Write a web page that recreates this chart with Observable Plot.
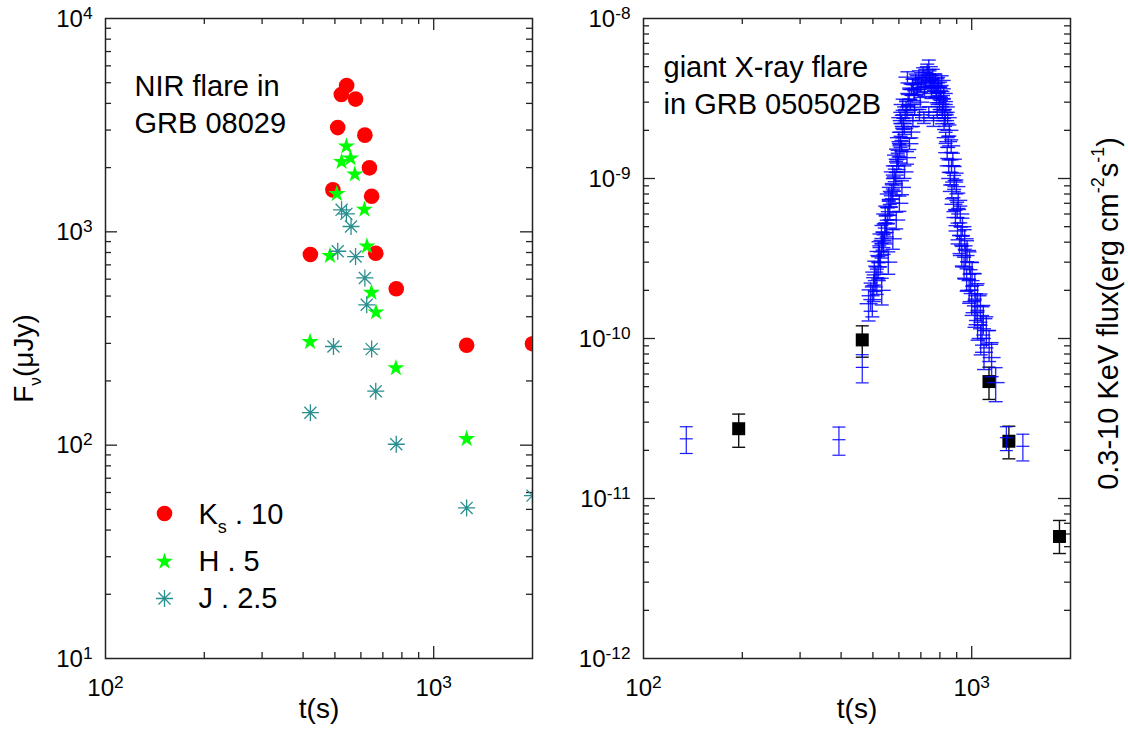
<!DOCTYPE html>
<html><head><meta charset="utf-8">
<script src="https://cdn.jsdelivr.net/npm/d3@7"></script>
<script src="https://cdn.jsdelivr.net/npm/@observablehq/plot@0.6"></script>
<style>
html,body{margin:0;padding:0;background:#fff;}
#wrap{position:relative;width:1128px;height:729px;overflow:hidden;background:#fff;font-family:"Liberation Sans",Arial,sans-serif;}
#wrap svg{position:absolute;top:0;}
</style></head><body><div id="wrap"></div>
<script>
// ---------- Left panel: NIR flare (F_nu, microJansky, scaled) ----------
const ksT = [543, 523, 578, 510, 617, 637, 493, 647, 421, 666, 769, 1260, 2000];
const ksF = [4850, 4400, 4190, 3080, 2840, 1995, 1573, 1468, 783, 794, 541, 294, 299];
const hT  = [542, 524, 558, 575, 507, 615, 483, 626, 646, 667, 420, 767, 1260];
const hF  = [2520, 2130, 2213, 1862, 1507, 1273, 772, 856, 519, 420, 305, 230, 107];
const jT  = [524, 542, 560, 510, 578, 617, 625, 495, 647, 666, 421, 769, 1260, 2000];
const jF  = [1268, 1214, 1059, 811, 766, 608, 455, 290, 282, 179, 142, 101, 50.8, 58];
const legendLabels = ["K_{s} . 10", "H . 5", "J . 2.5"];

// ---------- Right panel: X-ray flare (0.3-10 keV flux) ----------
const sqT  = [195, 464, 1129, 1298, 1851];
const sqF  = [2.73e-11, 9.8e-11, 5.38e-11, 2.28e-11, 5.79e-12];
const sqLo = [2.09e-11, 7.64e-11, 4.16e-11, 1.77e-11, 4.53e-12];
const sqHi = [3.37e-11, 1.2e-10, 6.62e-11, 2.83e-11, 7.29e-12];

const isoT = [135, 394, 464, 1275, 1432];
const isoF = [2.36e-11, 2.33e-11, 6.6e-11, 2.4e-11, 2.12e-11];
const isoE = [0.19, 0.2, 0.2, 0.17, 0.19];

const riseT = [485,492,498,503,508,514,519,523,527,531,535,539,543,547,551,555,559,563,567,571,575,579,583,587,591,595,599,603,607,611,615,619,623,627,631,635,640,645,650,655,532,557,575,589,602,613,624,635,646,655,662,606,616,637,505,520,531,545,559,575,588,600,612];
const riseF = [1.65e-10,1.85e-10,1.75e-10,2.1e-10,2.4e-10,2.3e-10,2.8e-10,3.3e-10,3.0e-10,3.7e-10,4.1e-10,3.9e-10,4.6e-10,5.2e-10,4.9e-10,5.9e-10,6.6e-10,6.2e-10,7.4e-10,8.3e-10,7.8e-10,9.3e-10,1.05e-9,1.0e-9,1.2e-9,1.32e-9,1.25e-9,1.5e-9,1.7e-9,1.6e-9,1.95e-9,2.2e-9,2.05e-9,2.5e-9,2.8e-9,2.6e-9,3.1e-9,3.4e-9,2.9e-9,3.6e-9,2.0e-10,3.0e-10,4.2e-10,5.5e-10,7.0e-10,8.8e-10,1.1e-9,1.35e-9,1.65e-9,1.95e-9,2.3e-9,2.4e-9,2.9e-9,4.3e-9,2.6e-10,3.5e-10,4.5e-10,6.0e-10,8.0e-10,1.1e-9,1.4e-9,1.8e-9,2.3e-9];
const riseE = [.22,.20,.22,.19,.18,.18,.16,.15,.16,.14,.13,.14,.13,.12,.12,.11,.11,.11,.10,.10,.10,.10,.09,.09,.09,.09,.09,.09,.08,.08,.08,.08,.08,.08,.08,.08,.08,.08,.08,.08,.19,.16,.14,.12,.11,.10,.09,.09,.08,.08,.08,.08,.08,.08,.17,.15,.13,.12,.10,.09,.09,.08,.08];

const peakT = [660,668,675,682,690,697,704,711,718,725,732,740,747,754,761,768,775,782,790,798,806,814,822,830,670,693,715,740,765,785,700,722,744,758,779,795,686,664];
const peakF = [3.9e-9,3.3e-9,4.2e-9,3.6e-9,4.4e-9,3.0e-9,4.0e-9,4.6e-9,3.5e-9,4.3e-9,4.8e-9,5.0e-9,4.1e-9,3.4e-9,4.5e-9,3.8e-9,4.2e-9,3.2e-9,3.7e-9,2.9e-9,3.3e-9,2.6e-9,2.9e-9,2.3e-9,2.7e-9,2.5e-9,2.4e-9,2.6e-9,2.3e-9,2.6e-9,3.7e-9,4.0e-9,4.4e-9,3.9e-9,3.5e-9,3.2e-9,3.9e-9,3.6e-9];
const peakE = [.07,.07,.07,.07,.07,.07,.07,.07,.07,.07,.08,.10,.07,.07,.07,.07,.07,.07,.07,.07,.07,.08,.08,.08,.08,.08,.08,.08,.08,.08,.07,.07,.07,.07,.07,.07,.07,.07];

const decayT = [790,803,815,824,833,842,851,860,870,880,892,905,918,933,948,965,982,1000,1020,1042,1065,1090,810,822,834,845,855,866,876,887,898,910,923,937,952,968,985,1003,1022,1042,1063,1085,1108,1130,1150,1183,828,848,868,884,903,928,958,992,1030,1075];
const decayF = [4.0e-9,3.5e-9,2.7e-9,2.2e-9,1.8e-9,1.45e-9,1.2e-9,1.0e-9,8.3e-10,6.9e-10,5.7e-10,4.7e-10,3.9e-10,3.3e-10,2.8e-10,2.35e-10,2.0e-10,1.7e-10,1.45e-10,1.22e-10,1.0e-10,8.2e-11,4.1e-9,3.4e-9,2.8e-9,2.4e-9,2.0e-9,1.6e-9,1.32e-9,1.08e-9,8.9e-10,7.3e-10,6.0e-10,5.0e-10,4.2e-10,3.55e-10,3.0e-10,2.55e-10,2.15e-10,1.85e-10,1.58e-10,1.33e-10,1.12e-10,9.2e-11,7.6e-11,5.3e-11,2.5e-9,1.7e-9,1.2e-9,9.5e-10,6.4e-10,4.4e-10,3.3e-10,2.3e-10,1.6e-10,1.15e-10];
const decayE = [.07,.07,.08,.08,.08,.08,.09,.09,.10,.10,.11,.12,.13,.14,.15,.16,.17,.18,.19,.20,.21,.22,.07,.07,.08,.08,.08,.09,.09,.10,.10,.11,.12,.13,.14,.15,.16,.17,.18,.19,.20,.21,.22,.22,.24,.24,.08,.08,.09,.10,.11,.13,.15,.17,.19,.21];

// ---------- Axis tick values ----------
const xMajor = [100, 1000];
const yMajorL = [10, 100, 1000, 10000];
const yMajorR = [1e-12, 1e-11, 1e-10, 1e-9, 1e-8];

// ---------- Styling ----------
const FONT = "'Liberation Sans', Arial, sans-serif";
const STYLE = `font-family:${FONT};background:transparent;overflow:visible;`;
const AX = "#222";
const RED = "#ff0000", GREEN = "#00ff00", TEAL = "#2a8f8f", BLUE = "#0000ff";
const IW = 427, IH = 640;

const minors = (majors, hiEnd) => majors.flatMap(m => [2,3,4,5,6,7,8,9].map(k => k * m)).filter(v => v < hiEnd * 0.999);
const inside = (vals, lo, hi) => vals.filter(v => v > lo * 1.001 && v < hi * 0.999);

const hbar = {draw(ctx, size) { const r = Math.sqrt(size / Math.PI); ctx.moveTo(-r, 0); ctx.lineTo(r, 0); }};
const ast8 = {draw(ctx, size) {
  const r = Math.sqrt(size / Math.PI);
  for (let k = 0; k < 4; k++) { const a = k * Math.PI / 4, c = Math.cos(a) * r, s = Math.sin(a) * r; ctx.moveTo(c, s); ctx.lineTo(-c, -s); }
}};

function frameTicks(xMaj, xMin, yMaj, yMin) {
  const M = 12, m = 6, st = {stroke: AX, strokeWidth: 1.3};
  return [
    Plot.tickX(xMaj, {x: d => d, insetTop: IH - M, ...st}),
    Plot.tickX(xMaj, {x: d => d, insetBottom: IH - M, ...st}),
    Plot.tickX(xMin, {x: d => d, insetTop: IH - m, ...st}),
    Plot.tickX(xMin, {x: d => d, insetBottom: IH - m, ...st}),
    Plot.tickY(yMaj, {y: d => d, insetRight: IW - M, ...st}),
    Plot.tickY(yMaj, {y: d => d, insetLeft: IW - M, ...st}),
    Plot.tickY(yMin, {y: d => d, insetRight: IW - m, ...st}),
    Plot.tickY(yMin, {y: d => d, insetLeft: IW - m, ...st})
  ];
}
const pow = d => `10^{${Math.round(Math.log10(d))}}`;

function tickLabels(xLab, yLab) {
  return [
    Plot.text(xLab, {x: d => d, text: pow, frameAnchor: "bottom", dy: 37, lineAnchor: "bottom", textAnchor: "middle", fontSize: 24, className: "ticklab"}),
    Plot.text(yLab, {y: d => d, text: pow, frameAnchor: "left", dx: -13, dy: 8, lineAnchor: "bottom", textAnchor: "end", fontSize: 24, className: "ticklab"})
  ];
}

// ---------- Left plot ----------
const zip = (T, F) => T.map((t, i) => ({t, f: F[i]}));
const xMinor = minors([100, 1000], 2000);
const left = Plot.plot({
  width: 560, height: 729,
  marginLeft: 105, marginRight: 28, marginTop: 18, marginBottom: 71,
  style: STYLE,
  x: {type: "log", domain: [100, 2000], axis: null},
  y: {type: "log", domain: [10, 1e4], axis: null},
  marks: [
    ...frameTicks(inside(xMajor, 100, 2000), xMinor, inside(yMajorL, 10, 1e4), minors([10, 100, 1000], 1e4)),
    Plot.frame({stroke: AX, strokeWidth: 1.5}),
    Plot.dot(zip(ksT, ksF), {x: "t", y: "f", r: 7.8, fill: RED, clip: true}),
    Plot.dot(zip(hT, hF), {x: "t", y: "f", r: 5.4, symbol: "star", fill: GREEN, clip: true}),
    Plot.dot(zip(jT, jF), {x: "t", y: "f", r: 8.5, symbol: ast8, fill: "none", stroke: TEAL, strokeWidth: 1.3, clip: true}),
    ...tickLabels(xMajor, yMajorL),
    Plot.text(["t(s)"], {text: d => d, frameAnchor: "bottom", dy: 59, lineAnchor: "bottom", textAnchor: "middle", fontSize: 28}),
    Plot.text(["F_{ν}(μJy)"], {text: d => d, frameAnchor: "left", dx: -73, dy: 20, rotate: -90, lineAnchor: "bottom", textAnchor: "middle", fontSize: 28}),
    Plot.text(["NIR flare in"], {text: d => d, frameAnchor: "top-left", dx: 29, dy: 77, lineAnchor: "bottom", textAnchor: "start", fontSize: 29}),
    Plot.text(["GRB 08029"], {text: d => d, frameAnchor: "top-left", dx: 29, dy: 114, lineAnchor: "bottom", textAnchor: "start", fontSize: 29}),
    // legend
    Plot.dot([legendLabels[0]], {frameAnchor: "top-left", dx: 59, dy: 495, r: 7.8, fill: RED}),
    Plot.dot([legendLabels[1]], {frameAnchor: "top-left", dx: 59, dy: 543, r: 5.4, symbol: "star", fill: GREEN}),
    Plot.dot([legendLabels[2]], {frameAnchor: "top-left", dx: 59, dy: 580, r: 8.5, symbol: ast8, fill: "none", stroke: TEAL, strokeWidth: 1.3}),
    Plot.text([legendLabels[0]], {text: d => d, frameAnchor: "top-left", dx: 93, dy: 505, lineAnchor: "bottom", textAnchor: "start", fontSize: 29}),
    Plot.text([legendLabels[1]], {text: d => d, frameAnchor: "top-left", dx: 93, dy: 552, lineAnchor: "bottom", textAnchor: "start", fontSize: 29}),
    Plot.text([legendLabels[2]], {text: d => d, frameAnchor: "top-left", dx: 93, dy: 589, lineAnchor: "bottom", textAnchor: "start", fontSize: 29})
  ]
});

// ---------- Right plot ----------
const xrFlare = [];
const addPts = (T, F, E) => T.forEach((t, i) => xrFlare.push({t, f: F[i], lo: F[i] * (1 - E[i]), hi: F[i] * (1 + E[i])}));
addPts(riseT, riseF, riseE); addPts(peakT, peakF, peakE); addPts(decayT, decayF, decayE);
const xrIso = isoT.map((t, i) => ({t, f: isoF[i], lo: isoF[i] * (1 - isoE[i]), hi: isoF[i] * (1 + isoE[i])}));
const squares = sqT.map((t, i) => ({t, f: sqF[i], lo: sqLo[i], hi: sqHi[i]}));

function errMarks(data, color, midR, capR, sw, op) {
  const st = {stroke: color, strokeWidth: sw, strokeOpacity: op, fill: "none", clip: true};
  return [
    Plot.ruleX(data, {x: "t", y1: "lo", y2: "hi", stroke: color, strokeWidth: sw, strokeOpacity: op, clip: true}),
    Plot.dot(data, {x: "t", y: "lo", symbol: hbar, r: capR, ...st}),
    Plot.dot(data, {x: "t", y: "hi", symbol: hbar, r: capR, ...st}),
    ...(midR ? [Plot.dot(data, {x: "t", y: "f", symbol: hbar, r: midR, ...st})] : [])
  ];
}

const right = Plot.plot({
  width: 568, height: 729,
  marginLeft: 83, marginRight: 58, marginTop: 18, marginBottom: 71,
  style: STYLE,
  x: {type: "log", domain: [100, 2000], axis: null},
  y: {type: "log", domain: [1e-12, 1e-8], axis: null},
  marks: [
    ...frameTicks(inside(xMajor, 100, 2000), xMinor, inside(yMajorR, 1e-12, 1e-8), minors([1e-12, 1e-11, 1e-10, 1e-9], 1e-8)),
    Plot.frame({stroke: AX, strokeWidth: 1.5}),
    ...errMarks(squares, "#111", 0, 6.5, 1.4, 1),
    Plot.dot(squares, {x: "t", y: "f", symbol: "square", r: 7.33, fill: "#000"}),
    ...errMarks(xrIso, BLUE, 6.5, 6.5, 1.2, 0.9),
    ...errMarks(xrFlare, BLUE, 9, 7, 1.4, 0.85),
    ...tickLabels(xMajor, yMajorR),
    Plot.text(["t(s)"], {text: d => d, frameAnchor: "bottom", dy: 59, lineAnchor: "bottom", textAnchor: "middle", fontSize: 28}),
    Plot.text(["0.3-10 KeV flux(erg cm^{-2}s^{-1})"], {text: d => d, frameAnchor: "right", dx: 47, dy: -25, rotate: -90, lineAnchor: "bottom", textAnchor: "middle", fontSize: 29}),
    Plot.text(["giant X-ray flare"], {text: d => d, frameAnchor: "top-left", dx: 20, dy: 58, lineAnchor: "bottom", textAnchor: "start", fontSize: 29}),
    Plot.text(["in GRB 050502B"], {text: d => d, frameAnchor: "top-left", dx: 20, dy: 95, lineAnchor: "bottom", textAnchor: "start", fontSize: 29})
  ]
});

const wrap = document.getElementById("wrap");
left.style.left = "0px";
right.style.left = "560px";
wrap.appendChild(left);
wrap.appendChild(right);

// Render ^{..} and _{..} as real super/subscript tspans
function richText(svg) {
  for (const t of svg.querySelectorAll("text")) {
    const s = t.textContent;
    if (!/[\^_]\{/.test(s)) continue;
    const isTick = !!t.closest(".ticklab");
    const fs = parseFloat(getComputedStyle(t).fontSize) || 22;
    const scale = isTick ? 0.72 : 0.62, up = isTick ? -0.32 : -0.45;
    while (t.firstChild) t.removeChild(t.firstChild);
    let cur = 0, last = 0, m;
    const re = /([\^_])\{([^}]*)\}/g;
    const seg = (txt, target, small) => {
      if (!txt) return;
      const ts = document.createElementNS("http://www.w3.org/2000/svg", "tspan");
      ts.textContent = txt;
      const dy = target - cur;
      if (Math.abs(dy) > 0.01) ts.setAttribute("dy", dy.toFixed(2));
      if (small) ts.setAttribute("font-size", (fs * scale).toFixed(2));
      cur = target;
      t.appendChild(ts);
    };
    while ((m = re.exec(s))) {
      seg(s.slice(last, m.index), 0, false);
      seg(m[2], m[1] === "^" ? up * fs : 0.32 * fs, true);
      last = re.lastIndex;
    }
    seg(s.slice(last), 0, false);
  }
}
richText(left);
richText(right);
</script>
</body></html>
